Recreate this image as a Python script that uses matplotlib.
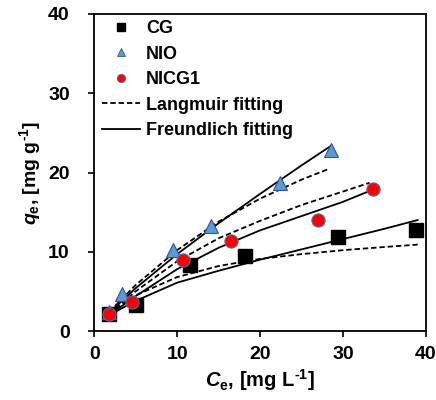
import matplotlib
matplotlib.use("Agg")
import matplotlib.pyplot as plt
from matplotlib.lines import Line2D

# measured points
cg_x = [1.8, 5.0, 11.6, 18.2, 29.4, 38.8]
cg_y = [2.2, 3.3, 8.3, 9.5, 11.8, 12.8]
nio_x = [1.8, 3.4, 9.5, 14.1, 22.4, 28.6]
nio_y = [2.4, 4.7, 10.2, 13.2, 18.7, 22.9]
nicg_x = [1.8, 4.6, 10.7, 16.5, 27.0, 33.6]
nicg_y = [2.2, 3.6, 9.0, 11.4, 14.0, 17.9]

# fitted curves
cg_lang_x = [1.8, 5, 10, 15, 20, 25, 30, 35, 39]
cg_lang_y = [2.2, 4.5, 6.8, 8.2, 9.1, 9.7, 10.2, 10.6, 10.9]
cg_freu_x = [1.8, 5, 10, 15, 20, 25, 30, 35, 39]
cg_freu_y = [2.0, 3.8, 6.1, 7.6, 9.0, 10.3, 11.6, 12.9, 14.0]
nio_lang_x = [1.8, 5, 10, 15, 20, 25, 28.4]
nio_lang_y = [2.4, 5.8, 10.2, 13.8, 16.7, 19.1, 20.5]
nio_freu_x = [1.8, 5, 10, 15, 20, 25, 28.6]
nio_freu_y = [2.3, 5.4, 9.7, 13.6, 17.3, 20.9, 23.4]
nicg_lang_x = [1.8, 5, 10, 15, 20, 25, 30, 33.2]
nicg_lang_y = [2.2, 5.0, 8.8, 11.7, 13.9, 15.9, 17.6, 18.7]
nicg_freu_x = [1.8, 5, 10, 15, 20, 25, 30, 33.5]
nicg_freu_y = [2.0, 4.4, 7.8, 10.5, 12.7, 14.5, 16.3, 17.8]

plt.rcParams['font.family'] = ['Liberation Sans', 'DejaVu Sans']
plt.rcParams['font.weight'] = 'bold'
plt.rcParams['axes.labelweight'] = 'bold'
plt.rcParams['mathtext.fontset'] = 'custom'
plt.rcParams['mathtext.rm'] = 'Liberation Sans:bold'
plt.rcParams['mathtext.it'] = 'Liberation Sans:bold:italic'
plt.rcParams['mathtext.bf'] = 'Liberation Sans:bold'

fig = plt.figure(figsize=(4.36, 4.0), dpi=100)
ax = fig.add_axes([0.216, 0.1725, 0.761, 0.7925])

dash = (0, (3, 1.6))
lw = 1.3
ax.plot(cg_lang_x, cg_lang_y, color='black', lw=lw, linestyle=dash)
ax.plot(cg_freu_x, cg_freu_y, color='black', lw=lw)
ax.plot(nio_lang_x, nio_lang_y, color='black', lw=lw, linestyle=dash)
ax.plot(nio_freu_x, nio_freu_y, color='black', lw=lw)
ax.plot(nicg_lang_x, nicg_lang_y, color='black', lw=lw, linestyle=dash)
ax.plot(nicg_freu_x, nicg_freu_y, color='black', lw=lw)

ax.plot(cg_x, cg_y, 's', color='black', ms=9.5, zorder=3)
ax.plot(nio_x, nio_y, '^', mfc='#5b9bd5', mec='#2f5597', mew=0.8, ms=10, zorder=3)
ax.plot(nicg_x, nicg_y, 'o', mfc='#ff0000', mec='#4f6fa8', mew=0.8, ms=9.5, zorder=4)

ax.set_xlim(0, 40)
ax.set_ylim(0, 40)
ax.set_xticks([0, 10, 20, 30, 40])
ax.set_yticks([0, 10, 20, 30, 40])
ax.tick_params(direction='out', length=4.5, width=1.2, labelsize=14)
ax.tick_params(axis='x', pad=6)
ax.tick_params(axis='y', pad=13)
for s in ax.spines.values():
    s.set_linewidth(1.3)

ax.set_xlabel('$C_{\\rm e}$, [mg L$^{\\rm \u20101}$]', fontsize=14.5, labelpad=3)
ax.set_ylabel('$q_{\\rm e}$, [mg g$^{\\rm \u20101}$]', fontsize=14, labelpad=4)

handles = [
    Line2D([], [], marker='s', color='black', ls='none', ms=6),
    Line2D([], [], marker='^', mfc='#5b9bd5', mec='#2f5597', mew=0.6, ls='none', ms=6),
    Line2D([], [], marker='o', mfc='#ff0000', mec='#4f6fa8', mew=0.6, ls='none', ms=6),
    Line2D([], [], color='black', lw=lw, linestyle=dash),
    Line2D([], [], color='black', lw=lw),
]
labels = ['CG', 'NIO', 'NICG1', 'Langmuir fitting', 'Freundlich fitting']
ax.legend(handles, labels, loc='upper left', bbox_to_anchor=(0.01, 0.995),
          frameon=False, fontsize=13, handlelength=2.1, handletextpad=0.35,
          labelspacing=0.47, borderaxespad=0.0, borderpad=0.25)

fig.savefig('out.png', dpi=100)
